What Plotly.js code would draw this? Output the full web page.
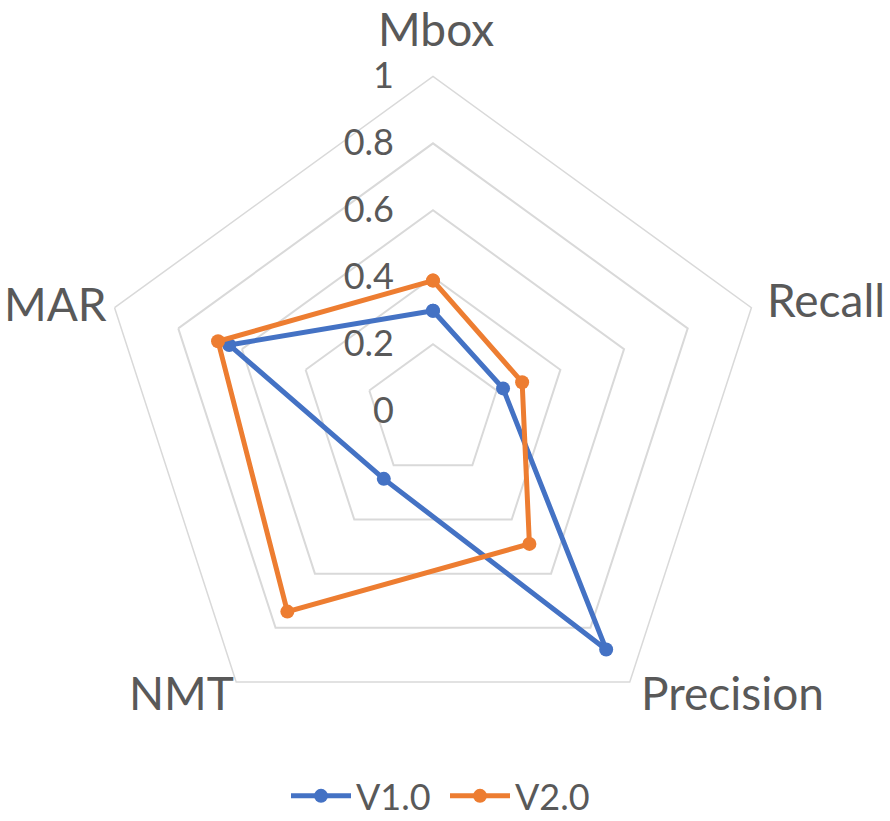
<!DOCTYPE html>
<html>
<head>
<meta charset="utf-8">
<script src="https://cdn.plot.ly/plotly-3.0.1.min.js"></script>
<style>html,body{margin:0;padding:0;background:#fff}#chart{width:890px;height:821px}</style>
</head>
<body>
<div id="chart"></div>
<script>
const categories = ["Mbox", "Recall", "Precision", "NMT", "MAR"];
const v1 = [0.30, 0.22, 0.88, 0.25, 0.64];
const v2 = [0.39, 0.28, 0.49, 0.74, 0.675];
const seriesNames = ["V1.0", "V2.0"];
const tickVals = [0, 0.2, 0.4, 0.6, 0.8, 1];
const tickText = ["0", "0.2", "0.4", "0.6", "0.8", "1"];

// category label placement (paper fractions), layout only
const labelX = [0.4899, 0.9281, 0.8225, 0.2034, 0.0618];
const labelY = [0.9647, 0.6346, 0.1571, 0.1571, 0.6309];

const closeLoop = a => a.concat([a[0]]);
const font = "Lato, 'Open Sans', sans-serif";
const grey = "#595959";

const data = [
  {type: "scatterpolar", name: seriesNames[0], r: closeLoop(v1), theta: closeLoop(categories),
   mode: "lines+markers", line: {color: "#4472C4", width: 5}, marker: {color: "#4472C4", size: 14}},
  {type: "scatterpolar", name: seriesNames[1], r: closeLoop(v2), theta: closeLoop(categories),
   mode: "lines+markers", line: {color: "#ED7D31", width: 5}, marker: {color: "#ED7D31", size: 14}}
];

const annotations = categories.map((c, i) => ({
  text: c, xref: "paper", yref: "paper", x: labelX[i], y: labelY[i],
  xanchor: "center", yanchor: "middle", showarrow: false,
  font: {size: 46, color: grey, family: font}
}));

const layout = {
  width: 890, height: 821,
  margin: {l: 0, r: 0, t: 0, b: 0, autoexpand: false},
  paper_bgcolor: "#fff",
  font: {family: font, color: grey},
  showlegend: true,
  legend: {orientation: "h", x: 0.5, xanchor: "center", y: -0.006, yanchor: "bottom",
           itemwidth: 60, entrywidth: 84, font: {size: 36, color: grey}},
  annotations: annotations,
  polar: {
    domain: {x: [0.110, 0.863], y: [0.0914, 0.907]},
    gridshape: "linear",
    bgcolor: "rgba(0,0,0,0)",
    angularaxis: {direction: "clockwise", rotation: 90, showgrid: false, showline: true,
                  linecolor: "#d9d9d9", linewidth: 1.5, ticks: "", showticklabels: false},
    radialaxis: {range: [0, 1], angle: 90, tickangle: 90, side: "counterclockwise",
                 tickvals: tickVals, ticktext: tickText, showline: false,
                 ticks: "outside", ticklen: 26, tickcolor: "rgba(0,0,0,0)",
                 gridcolor: "#d9d9d9", gridwidth: 1.5,
                 tickfont: {size: 36, color: grey}}
  }
};

Plotly.newPlot("chart", data, layout, {displayModeBar: false});
</script>
</body>
</html>
